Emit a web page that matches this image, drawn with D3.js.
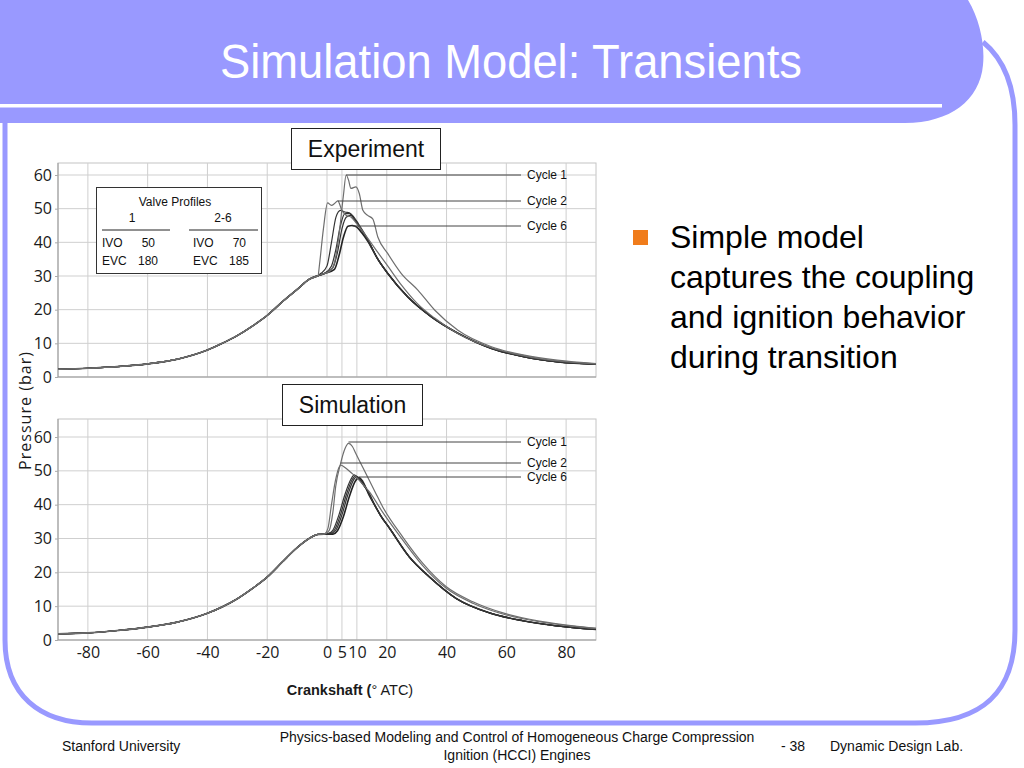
<!DOCTYPE html>
<html>
<head>
<meta charset="utf-8">
<script src="https://cdnjs.cloudflare.com/ajax/libs/d3/7.8.5/d3.min.js"></script>
<style>
  body { margin: 0; background: #fff; }
  svg { display: block; }
</style>
</head>
<body>
<div id="slide"></div>
<script>
// DATA
var xTicks = [-80, -60, -40, -20, 0, 5, 10, 20, 40, 60, 80];
var yTicks = [0, 10, 20, 30, 40, 50, 60];

// shared compression stroke (all cycles identical before ignition)
var xComp = [-90, -80, -70, -60, -50, -40, -35, -30, -25, -20, -15, -10, -6, -3];
var pCompExp = [2.3, 2.6, 3.1, 3.9, 5.3, 8.0, 10.0, 12.3, 15.1, 18.3, 22.3, 26.0, 29.0, 30.1];
var pCompSim = [1.8, 2.1, 2.8, 3.8, 5.3, 7.9, 9.8, 12.2, 15.2, 18.6, 23.0, 27.3, 30.0, 31.2];

// experiment, after ignition
var expC1X = [-1, 1, 2.5, 4, 5.5, 6.4, 7.2, 8, 9.7, 10.8, 12, 13.6, 15.3, 17, 20.3, 24.8, 30.4, 36, 43.8, 55, 66, 77, 90];
var expC1P = [30.7, 31.5, 34, 42, 54, 60, 58.5, 56, 56.5, 54.5, 49.5, 48, 47, 41.6, 36.7, 30.8, 25.8, 19.9, 13.9, 9.0, 6.5, 5.0, 4.0];
var expC2X = [-2.5, -1.2, 0.2, 1.5, 2.5, 3.6, 5, 6.5, 8, 10, 13, 17, 20.3, 25, 30, 36, 44, 55, 66, 77, 90];
var expC2P = [33.5, 44, 51.7, 51, 51.5, 52.3, 49.5, 48, 47.5, 45.5, 42, 37, 33, 27.2, 22, 17.5, 12.8, 8.7, 6.3, 4.8, 3.9];
var expC3X = [-2, 0, 1.5, 3, 4.5, 6, 7.5, 9, 10.5, 13.6];
var expC3P = [30.8, 33, 40, 47.5, 49.5, 49, 48.8, 47.5, 45.5, 41];
var expC4X = [-1, 1.5, 3, 4.5, 6, 7.5, 9, 10.5, 13.6];
var expC4P = [30.7, 33, 38, 45, 48.5, 48.5, 47, 45, 40.8];
var expC5X = [-1, 2, 3.5, 5, 6.5, 8, 9.5, 11, 13.6];
var expC5P = [30.7, 32.5, 37, 44, 47.5, 48, 46.5, 44.5, 40.6];
var expC6X = [-1, 2.5, 4, 5.5, 7, 8.5, 10, 11.5, 13.6];
var expC6P = [30.7, 32, 36, 41.5, 44.8, 45, 44.5, 43, 40.4];
var expTailX = [17, 20.3, 27, 34.9, 43.8, 55, 66, 77.3, 90];
var expTailP = [35, 30.8, 23.8, 17.9, 13.0, 8.5, 6.0, 4.5, 3.8];

// simulation, after ignition
var simC1X = [-1, 0.7, 2, 2.9, 4.5, 6, 7.2, 8.5, 9.6, 12, 14.1, 16.3, 18.6, 25.3, 32, 39.8, 48.8, 60, 71, 82.3, 90];
var simC1P = [31.3, 32.3, 38, 45.3, 52, 56.5, 58.1, 57.2, 55.2, 51, 47.3, 43.4, 39.4, 30.5, 22.7, 15.8, 11.3, 7.7, 5.6, 4.2, 3.5];
var simC2X = [-1, 0.3, 1.5, 2.8, 4, 4.6, 6, 8, 9.6, 12, 14, 18.6, 25.3, 32, 40, 49, 60, 71, 82, 90];
var simC2P = [31.3, 33, 40, 47, 51, 51.7, 51, 49.5, 48.3, 46, 44, 37.8, 29.6, 22.0, 15.2, 10.8, 7.4, 5.4, 4.1, 3.4];
var simC3X = [-1, 0.5, 2, 4, 6, 8, 9.1, 10.5, 12, 14.1];
var simC3P = [31.3, 31.5, 32.5, 37, 43, 47.5, 48.8, 47.8, 46, 43.4];
var simC4X = [-1, 1, 2.5, 4.5, 6.5, 8.5, 9.5, 11, 12.5, 14.1];
var simC4P = [31.3, 31.5, 32.5, 37, 43, 47.5, 48.5, 47.3, 45.4, 43.2];
var simC5X = [-1, 1.5, 3, 5, 7, 9, 10, 11.5, 13, 14.1];
var simC5P = [31.3, 31.4, 32.5, 37, 43, 47.5, 48.3, 47, 45, 43.0];
var simC6X = [-1, 2, 3.5, 5.5, 7.5, 9.5, 10.7, 12, 14.1];
var simC6P = [31.3, 31.3, 32.3, 36.5, 42.5, 47, 48.0, 46.8, 42.8];
var simTailX = [16, 18, 20.8, 27.5, 34.2, 43.2, 54.4, 65.5, 76.7, 90];
var simTailP = [39.8, 36.7, 33.2, 24.6, 18.7, 12.3, 8.0, 5.7, 4.2, 3.1];

var bulletLines = ["Simple model", "captures the coupling", "and ignition behavior", "during transition"];

// build point lists
function pts(xs, ps) {
  return xs.map(function (x, i) { return { x: x, p: ps[i] }; });
}
var expSeries = [
  { name: "Cycle 1", pts: pts(xComp, pCompExp).concat(pts(expC1X, expC1P)), color: "#6e6e6e", w: 1.2 },
  { name: "Cycle 2", pts: pts(xComp, pCompExp).concat(pts(expC2X, expC2P)), color: "#6e6e6e", w: 1.2 },
  { name: "Cycle 3", pts: pts(xComp, pCompExp).concat(pts(expC3X, expC3P), pts(expTailX, expTailP)), color: "#333", w: 1.2 },
  { name: "Cycle 4", pts: pts(xComp, pCompExp).concat(pts(expC4X, expC4P), pts(expTailX, expTailP)), color: "#333", w: 1.2 },
  { name: "Cycle 5", pts: pts(xComp, pCompExp).concat(pts(expC5X, expC5P), pts(expTailX, expTailP)), color: "#333", w: 1.2 },
  { name: "Cycle 6", pts: pts(xComp, pCompExp).concat(pts(expC6X, expC6P), pts(expTailX, expTailP)), color: "#222", w: 1.6 }
];
var simSeries = [
  { name: "Cycle 1", pts: pts(xComp, pCompSim).concat(pts(simC1X, simC1P)), color: "#6e6e6e", w: 1.2 },
  { name: "Cycle 2", pts: pts(xComp, pCompSim).concat(pts(simC2X, simC2P)), color: "#6e6e6e", w: 1.2 },
  { name: "Cycle 3", pts: pts(xComp, pCompSim).concat(pts(simC3X, simC3P), pts(simTailX, simTailP)), color: "#333", w: 1.2 },
  { name: "Cycle 4", pts: pts(xComp, pCompSim).concat(pts(simC4X, simC4P), pts(simTailX, simTailP)), color: "#333", w: 1.2 },
  { name: "Cycle 5", pts: pts(xComp, pCompSim).concat(pts(simC5X, simC5P), pts(simTailX, simTailP)), color: "#333", w: 1.2 },
  { name: "Cycle 6", pts: pts(xComp, pCompSim).concat(pts(simC6X, simC6P), pts(simTailX, simTailP)), color: "#222", w: 1.6 }
];

var lav = "#9999ff";
var svg = d3.select("#slide").append("svg").attr("width", 1024).attr("height", 768);

// slide frame
svg.append("path")
  .attr("d", "M0,0 H968 C980,20 985,45 983,65 C980,100 950,123 905,123 H0 Z")
  .attr("fill", lav);
svg.append("rect").attr("x", 0).attr("y", 104).attr("width", 942).attr("height", 3.5).attr("fill", "#fff");
svg.append("path")
  .attr("d", "M983,42 C1005,60 1015,90 1015,125 V630 C1015,690 985,723 915,723 H92 C40,723 5,695 5,640 V123")
  .attr("fill", "none").attr("stroke", lav).attr("stroke-width", 5);

svg.append("text")
  .attr("x", 511).attr("y", 78)
  .attr("text-anchor", "middle")
  .attr("textLength", 582).attr("lengthAdjust", "spacingAndGlyphs")
  .style("font-family", "'Liberation Sans Narrow', 'Liberation Sans', Arial, sans-serif")
  .style("font-size", "48px").attr("fill", "#fff")
  .text("Simulation Model: Transients");

var x = d3.scaleLinear().domain([-90, 90]).range([58, 596]);
var plainNum = function (d) { return String(d); };

function drawPanel(series, y0, y60, topY, labelYs) {
  var y = d3.scaleLinear().domain([0, 60]).range([y0, y60]);
  var g = svg.append("g");
  g.append("rect")
    .attr("x", x(-90)).attr("y", topY).attr("width", x(90) - x(-90)).attr("height", y0 - topY)
    .attr("fill", "#fff").attr("stroke", "#c4c4c4");
  g.selectAll("line.vgrid").data(xTicks).enter().append("line")
    .attr("x1", function (d) { return x(d); }).attr("x2", function (d) { return x(d); })
    .attr("y1", topY).attr("y2", y0)
    .attr("stroke", "#cfcfcf").attr("stroke-width", 1);
  g.selectAll("line.hgrid").data(yTicks.slice(1)).enter().append("line")
    .attr("x1", x(-90)).attr("x2", x(90))
    .attr("y1", function (d) { return y(d); }).attr("y2", function (d) { return y(d); })
    .attr("stroke", "#cfcfcf").attr("stroke-width", 1);
  g.append("line").attr("x1", x(-90)).attr("x2", x(-90)).attr("y1", topY).attr("y2", y0)
    .attr("stroke", "#999");
  g.append("line").attr("x1", x(-90)).attr("x2", x(90)).attr("y1", y0).attr("y2", y0)
    .attr("stroke", "#999");

  var yAxis = g.append("g").attr("transform", "translate(" + x(-90) + ",0)")
    .call(d3.axisLeft(y).tickValues(yTicks).tickFormat(plainNum).tickSize(3).tickPadding(3));
  yAxis.select(".domain").remove();
  yAxis.selectAll("line").attr("stroke", "#aaa");
  yAxis.selectAll("text")
    .style("font-family", "'Open Sans', 'Noto Sans', sans-serif")
    .style("font-size", "16px").attr("fill", "#1a1a1a");

  var line = d3.line()
    .x(function (d) { return x(d.x); })
    .y(function (d) { return y(d.p); })
    .curve(d3.curveMonotoneX);
  g.selectAll("path.cycle").data(series.slice().reverse()).enter().append("path")
    .attr("class", "cycle")
    .attr("d", function (d) { return line(d.pts); })
    .attr("fill", "none")
    .attr("stroke", function (d) { return d.color; })
    .attr("stroke-width", function (d) { return d.w; });

  // leader lines from the peak of cycles 1, 2 and 6
  var labelled = [series[0], series[1], series[5]];
  labelled.forEach(function (s, i) {
    var pk = s.pts[d3.maxIndex(s.pts, function (d) { return d.p; })];
    var ly = labelYs[i];
    g.append("line")
      .attr("x1", x(pk.x)).attr("y1", ly).attr("x2", 521).attr("y2", ly)
      .attr("stroke", "#444").attr("stroke-width", 1);
    g.append("text")
      .attr("x", 527).attr("y", ly).attr("dy", "0.35em")
      .style("font-family", "'Liberation Sans', Arial, sans-serif")
      .style("font-size", "12px").attr("fill", "#111")
      .text(s.name);
  });
  return y;
}

var yTop = drawPanel(expSeries, 377, 175, 163, [175, 201, 226]);
var yBot = drawPanel(simSeries, 640, 437, 419, [442, 463, 477]);

// x axis labels below the simulation panel
var xAxis = svg.append("g").attr("transform", "translate(0,640)")
  .call(d3.axisBottom(x).tickValues(xTicks).tickFormat(plainNum).tickSize(0).tickPadding(7));
xAxis.select(".domain").remove();
xAxis.selectAll("text")
  .style("font-family", "'Open Sans', 'Noto Sans', sans-serif")
  .style("font-size", "16px").attr("fill", "#1a1a1a");

// axis titles
var xt = svg.append("text")
  .attr("x", 350).attr("y", 695).attr("text-anchor", "middle")
  .style("font-family", "'Liberation Sans', Arial, sans-serif")
  .style("font-size", "14.5px").attr("fill", "#1a1a1a");
xt.append("tspan").style("font-weight", "bold").text("Crankshaft (");
xt.append("tspan").text("° ATC)");

svg.append("text")
  .attr("transform", "translate(31,411) rotate(-90)")
  .attr("text-anchor", "middle")
  .attr("textLength", 118).attr("lengthAdjust", "spacing")
  .style("font-family", "'Open Sans', 'Noto Sans', sans-serif")
  .style("font-size", "16px").attr("fill", "#1a1a1a")
  .text("Pressure (bar)");

// panel title boxes
function titleBox(label, bx, by, bw, bh) {
  svg.append("rect").attr("x", bx).attr("y", by).attr("width", bw).attr("height", bh)
    .attr("fill", "#fff").attr("stroke", "#222").attr("stroke-width", 1);
  svg.append("text").attr("x", bx + bw / 2).attr("y", by + bh / 2).attr("dy", "0.36em")
    .attr("text-anchor", "middle")
    .style("font-family", "'Liberation Sans', Arial, sans-serif")
    .style("font-size", "23px").attr("fill", "#111")
    .text(label);
}
titleBox("Experiment", 291.5, 128.5, 149, 41);
titleBox("Simulation", 282.5, 384.5, 140, 41);

// valve profile box
var vb = svg.append("g").style("font-family", "'Liberation Sans', Arial, sans-serif")
  .style("font-size", "12px").attr("fill", "#111");
vb.append("rect").attr("x", 96.5).attr("y", 187.5).attr("width", 165).attr("height", 86)
  .attr("fill", "#fff").attr("stroke", "#333");
vb.append("text").attr("x", 175).attr("y", 206).attr("text-anchor", "middle").text("Valve Profiles");
vb.append("text").attr("x", 132).attr("y", 222).attr("text-anchor", "middle").text("1");
vb.append("text").attr("x", 223).attr("y", 222).attr("text-anchor", "middle").text("2-6");
vb.append("line").attr("x1", 102).attr("x2", 170).attr("y1", 230).attr("y2", 230).attr("stroke", "#222");
vb.append("line").attr("x1", 189).attr("x2", 258).attr("y1", 230).attr("y2", 230).attr("stroke", "#222");
vb.append("text").attr("x", 102).attr("y", 247).text("IVO");
vb.append("text").attr("x", 155).attr("y", 247).attr("text-anchor", "end").text("50");
vb.append("text").attr("x", 102).attr("y", 265).text("EVC");
vb.append("text").attr("x", 158).attr("y", 265).attr("text-anchor", "end").text("180");
vb.append("text").attr("x", 193).attr("y", 247).text("IVO");
vb.append("text").attr("x", 246).attr("y", 247).attr("text-anchor", "end").text("70");
vb.append("text").attr("x", 193).attr("y", 265).text("EVC");
vb.append("text").attr("x", 249).attr("y", 265).attr("text-anchor", "end").text("185");

// bullet
svg.append("rect").attr("x", 633).attr("y", 230).attr("width", 15).attr("height", 15).attr("fill", "#f07c1b");
svg.selectAll("text.bullet").data(bulletLines).enter().append("text")
  .attr("class", "bullet")
  .attr("x", 670).attr("y", function (d, i) { return 248 + i * 40; })
  .style("font-family", "'Liberation Sans', Arial, sans-serif")
  .style("font-size", "32px").attr("fill", "#000")
  .text(function (d) { return d; });

// footer
var ft = svg.append("g").style("font-family", "'Liberation Sans', Arial, sans-serif")
  .style("font-size", "14px").attr("fill", "#111");
ft.append("text").attr("x", 62).attr("y", 751).text("Stanford University");
ft.append("text").attr("x", 517).attr("y", 742).attr("text-anchor", "middle")
  .text("Physics-based Modeling and Control of Homogeneous Charge Compression");
ft.append("text").attr("x", 517).attr("y", 760).attr("text-anchor", "middle").text("Ignition (HCCI) Engines");
ft.append("text").attr("x", 781).attr("y", 751).text("- 38");
ft.append("text").attr("x", 830).attr("y", 751).text("Dynamic Design Lab.");
</script>
</body>
</html>
